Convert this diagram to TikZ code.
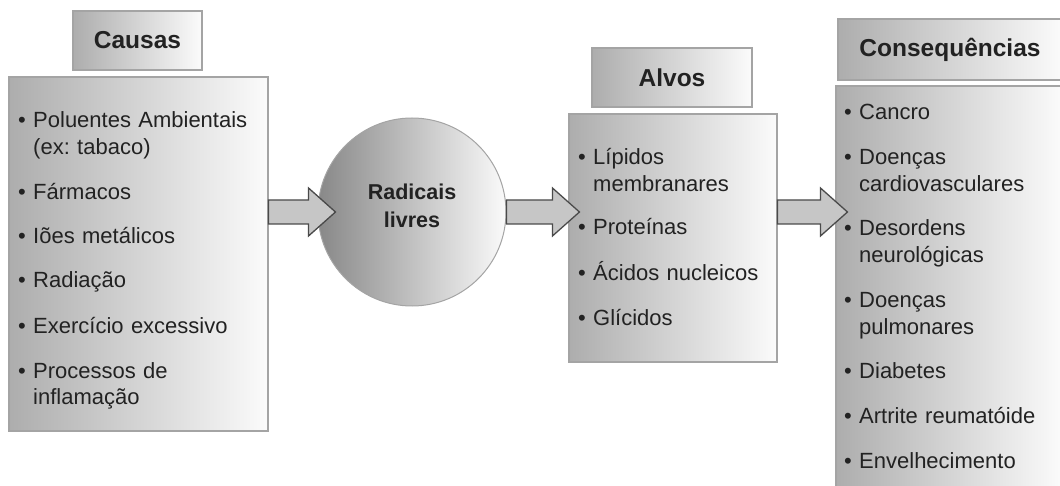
\documentclass[tikz,border=0pt]{standalone}
\usepackage{fontspec}
\setmainfont{Liberation Sans}
\usetikzlibrary{calc}
\frenchspacing
\definecolor{txt}{HTML}{222222}
\definecolor{bordergray}{HTML}{A4A4A4}
\definecolor{boxdark}{HTML}{ADADAD}
\definecolor{boxlight}{HTML}{FBFBFB}
\definecolor{circdark}{HTML}{888888}
\definecolor{circlight}{HTML}{FAFAFA}
\definecolor{arrowfill}{HTML}{C6C6C6}
\definecolor{arrowdark}{HTML}{4A4A4A}
\newcommand\itm[1]{\textbullet\ #1}
\newcommand\ind{\hphantom{\textbullet\ }}
\newcommand\fatarrow[2]{\draw[fatarr] ($(#1)+(0,-12)$) -- ($(#2)+(-27,-12)$) -- ($(#2)+(-27,-24)$) -- (#2) -- ($(#2)+(-27,24)$) -- ($(#2)+(-27,12)$) -- ($(#1)+(0,12)$) -- cycle;}
\begin{document}
\begin{tikzpicture}[x=1pt,y=-1pt,
  panel/.style={draw=bordergray, line width=1.1pt, left color=boxdark, right color=boxlight, inner sep=0pt},
  titlebox/.style={panel, font=\fontsize{24.5}{28}\selectfont\bfseries, text=txt},
  item/.style={anchor=base west, inner sep=0pt, align=left, font=\fontsize{22}{26.5}\selectfont\frenchspacing, text=txt},
  fatarr/.style={draw=arrowdark, fill=arrowfill, line width=1.3pt, line join=miter}]
\useasboundingbox (0,0) rectangle (1060,486);
\clip (0,0) rectangle (1060,486);

% titles
\node[titlebox, minimum width=129, minimum height=59] (tcausas) at (137.5,40.5) {Causas};
\node[titlebox, minimum width=160, minimum height=59] (talvos) at (672,77.5) {Alvos};
\node[titlebox, minimum width=224, minimum height=61] (tcons) at (950,49.5) {Consequências};

% panels
\node[panel, minimum width=259, minimum height=354] (causas) at (138.5,254) {};
\node[panel, minimum width=208, minimum height=248] (alvos) at (673,238) {};
\node[panel, minimum width=226, minimum height=414] (cons) at (949,293) {};

% circle
\node[circle, draw=bordergray, line width=1pt, left color=circdark, right color=circlight,
      minimum size=188, inner sep=0pt] (circ) at (412,212) {};
\node[align=center, text=txt, inner sep=0pt,
      font=\fontsize{21.5}{28}\selectfont\bfseries] (circtext) at (412,206) {Radicais\\livres};

% causas items
\node[item, text width=245] (c1) at (18,128) {\itm{Poluentes Ambientais}\\\ind(ex: tabaco)};
\node[item, text width=245] (c2) at (18,200) {\itm{Fármacos}};
\node[item, text width=245] (c3) at (18,244) {\itm{Iões metálicos}};
\node[item, text width=245] (c4) at (18,288) {\itm{Radiação}};
\node[item, text width=245] (c5) at (18,333) {\itm{Exercício excessivo}};
\node[item, text width=245] (c6) at (18,378) {\itm{Processos de}\\\ind inflamação};

% alvos items
\node[item, text width=195] (a1) at (578,165) {\itm{Lípidos}\\\ind membranares};
\node[item, text width=195] (a2) at (578,235) {\itm{Proteínas}};
\node[item, text width=195] (a3) at (578,280) {\itm{Ácidos nucleicos}};
\node[item, text width=195] (a4) at (578,325) {\itm{Glícidos}};

% consequencias items
\node[item, text width=212] (q1) at (844,120) {\itm{Cancro}};
\node[item, text width=212] (q2) at (844,165) {\itm{Doenças}\\\ind cardiovasculares};
\node[item, text width=212] (q3) at (844,236) {\itm{Desordens}\\\ind neurológicas};
\node[item, text width=212] (q4) at (844,308) {\itm{Doenças}\\\ind pulmonares};
\node[item, text width=212] (q5) at (844,378) {\itm{Diabetes}};
\node[item, text width=212] (q6) at (844,423) {\itm{Artrite reumatóide}};
\node[item, text width=212] (q7) at (844,468) {\itm{Envelhecimento}};

% arrows
\coordinate (s1) at (causas.east |- circ.center);
\coordinate (e1) at ($(circ.west)+(18,0)$);
\coordinate (s2) at (circ.east);
\coordinate (e2) at ($(alvos.west |- circ.center)+(11,0)$);
\coordinate (s3) at (alvos.east |- circ.center);
\coordinate (e3) at ($(cons.west |- circ.center)+(12,0)$);
\fatarrow{s1}{e1}
\fatarrow{s2}{e2}
\fatarrow{s3}{e3}
\end{tikzpicture}
\end{document}
